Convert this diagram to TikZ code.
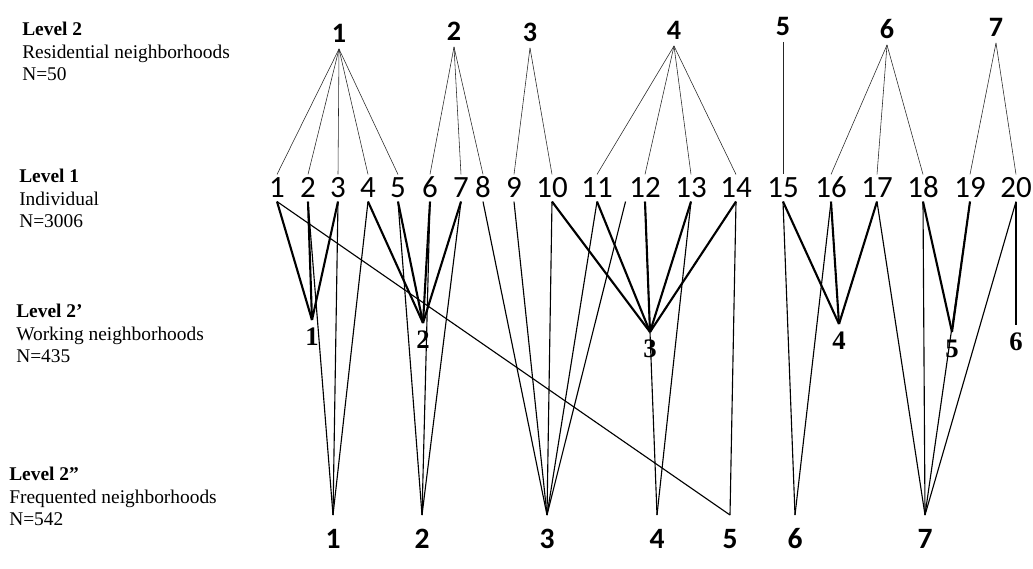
\documentclass[tikz,border=0pt]{standalone}
\usepackage{fontspec}
\setmainfont{Liberation Serif}
\newfontfamily\calibri{Carlito}

\begin{document}
\begin{tikzpicture}[x=0.025cm, y=-0.025cm,
  lvl/.style={align=left, anchor=north west, inner sep=0pt, font=\fontsize{13.8}{16}\selectfont},
  res/.style={font=\calibri\bfseries\fontsize{20}{20}\selectfont, text height=12.6pt, text depth=0pt, anchor=south, inner xsep=1pt, inner ysep=4.5pt},
  ind/.style={font=\calibri\fontsize{22}{22}\selectfont, text height=13.9pt, text depth=0pt, inner sep=2.5pt},
  wrk/.style={font=\bfseries\fontsize{19}{19}\selectfont, text height=12.8pt, text depth=0pt, anchor=north, inner xsep=1pt, inner ysep=5pt},
  frq/.style={font=\calibri\bfseries\fontsize{21}{21}\selectfont, text height=13.2pt, text depth=0pt, anchor=north, inner xsep=1pt, inner ysep=10.5pt},
  tie/.style={-, line width=0.4pt, black!85},
  work/.style={-, line width=1.5pt},
  freq/.style={-, line width=0.8pt}
]
\useasboundingbox (0,0) rectangle (1033,569);
\node[lvl] (lres) at (22,22) {\textbf{Level 2}\\Residential neighborhoods\\N=50};
\node[lvl] (lind) at (19,169) {\textbf{Level 1}\\Individual\\N=3006};
\node[lvl] (lwrk) at (16,304) {\textbf{Level 2’}\\Working neighborhoods\\N=435};
\node[lvl] (lfrq) at (9,467) {\textbf{Level 2”}\\Frequented neighborhoods\\N=542};
\node[res] (r1) at (339,49) {1};
\node[res] (r2) at (454,47) {2};
\node[res] (r3) at (530,48) {3};
\node[res] (r4) at (674,46) {4};
\node[res] (r5) at (783,42) {5};
\node[res] (r6) at (887,45) {6};
\node[res] (r7) at (996,43) {7};
\node[ind] (i1) at (277,188) {1};
\node[ind] (i2) at (308,188) {2};
\node[ind] (i3) at (338,188) {3};
\node[ind] (i4) at (368,188) {4};
\node[ind] (i5) at (398,188) {5};
\node[ind] (i6) at (430,188) {6};
\node[ind] (i7) at (461,188) {7};
\node[ind] (i8) at (483,188) {8};
\node[ind] (i9) at (514,188) {9};
\node[ind] (i10) at (552,188) {10};
\node[ind] (i11) at (597,188) {11};
\node[ind] (i12) at (645,188) {12};
\node[ind] (i13) at (691,188) {13};
\node[ind] (i14) at (736,188) {14};
\node[ind] (i15) at (783,188) {15};
\node[ind] (i16) at (831,188) {16};
\node[ind] (i17) at (877,188) {17};
\node[ind] (i18) at (923,188) {18};
\node[ind] (i19) at (970,188) {19};
\node[ind] (i20) at (1016,188) {20};
\node[wrk] (w1) at (312,320) {1};
\node[wrk] (w2) at (423,323) {2};
\node[wrk] (w3) at (650,332) {3};
\node[wrk] (w4) at (839,324) {4};
\node[wrk] (w5) at (952,332) {5};
\node[wrk] (w6) at (1016,325) {6};
\node[frq] (f1) at (333,515) {1};
\node[frq] (f2) at (422,515) {2};
\node[frq] (f3) at (547,515) {3};
\node[frq] (f4) at (657,515) {4};
\node[frq] (f5) at (730,515) {5};
\node[frq] (f6) at (795,515) {6};
\node[frq] (f7) at (925,515) {7};
\draw[tie] (r1.south) -- (i1.north);
\draw[tie] (r1.south) -- (i2.north);
\draw[tie] (r1.south) -- (i3.north);
\draw[tie] (r1.south) -- (i4.north);
\draw[tie] (r1.south) -- (i5.north);
\draw[tie] (r2.south) -- (i6.north);
\draw[tie] (r2.south) -- (i7.north);
\draw[tie] (r2.south) -- (i8.north);
\draw[tie] (r3.south) -- (i9.north);
\draw[tie] (r3.south) -- (i10.north);
\draw[tie] (r4.south) -- (i11.north);
\draw[tie] (r4.south) -- (i12.north);
\draw[tie] (r4.south) -- (i13.north);
\draw[tie] (r4.south) -- (i14.north);
\draw[tie] (r5.south) -- (i15.north);
\draw[tie] (r6.south) -- (i16.north);
\draw[tie] (r6.south) -- (i17.north);
\draw[tie] (r6.south) -- (i18.north);
\draw[tie] (r7.south) -- (i19.north);
\draw[tie] (r7.south) -- (i20.north);
\draw[work] (i1.south) -- (w1.north);
\draw[work] (i2.south) -- (w1.north);
\draw[work] (i3.south) -- (w1.north);
\draw[work] (i4.south) -- (w2.north);
\draw[work] (i5.south) -- (w2.north);
\draw[work] (i6.south) -- (w2.north);
\draw[work] (i7.south) -- (w2.north);
\draw[work] (i10.south) -- (w3.north);
\draw[work] (i11.south) -- (w3.north);
\draw[work] (i12.south) -- (w3.north);
\draw[work] (i13.south) -- (w3.north);
\draw[work] (i14.south) -- (w3.north);
\draw[work] (i15.south) -- (w4.north);
\draw[work] (i16.south) -- (w4.north);
\draw[work] (i17.south) -- (w4.north);
\draw[work] (i18.south) -- (w5.north);
\draw[work] (i19.south) -- (w5.north);
\draw[work] (i20.south) -- (w6.north);
\draw[freq] (i2.south) -- (f1.north);
\draw[freq] (i3.south) -- (f1.north);
\draw[freq] (i4.south) -- (f1.north);
\draw[freq] (i5.south) -- (f2.north);
\draw[freq] (i6.south) -- (f2.north);
\draw[freq] (i7.south) -- (f2.north);
\draw[freq] (i8.south) -- (f3.north);
\draw[freq] (i9.south) -- (f3.north);
\draw[freq] (i10.south) -- (f3.north);
\draw[freq] (i11.south) -- (f3.north);
\draw[freq] (i12.south west) -- (f3.north);
\draw[freq] (i12.south) -- (f4.north);
\draw[freq] (i13.south) -- (f4.north);
\draw[freq] (i1.south) -- (f5.north);
\draw[freq] (i14.south) -- (f5.north);
\draw[freq] (i15.south) -- (f6.north);
\draw[freq] (i16.south) -- (f6.north);
\draw[freq] (i17.south) -- (f7.north);
\draw[freq] (i18.south) -- (f7.north);
\draw[freq] (i19.south) -- (f7.north);
\draw[freq] (i20.south) -- (f7.north);
\end{tikzpicture}
\end{document}
